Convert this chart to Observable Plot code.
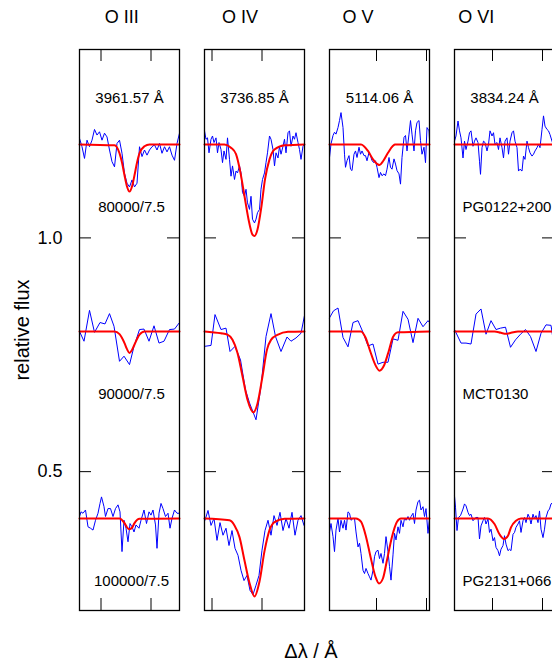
<!DOCTYPE html>
<html>
<head>
<meta charset="utf-8">
<script src="https://cdn.jsdelivr.net/npm/d3@7"></script>
<script src="https://cdn.jsdelivr.net/npm/@observablehq/plot@0.6"></script>
<style>
  html, body { margin: 0; padding: 0; background: #fff; }
  #wrap { position: relative; width: 552px; height: 662px; overflow: hidden; font-family: "Liberation Sans", Arial, Helvetica, sans-serif; color: #000; }
  #wrap svg { position: absolute; left: 0; top: 0; max-width: none !important; }
  .title { position: absolute; top: 8px; font-size: 18px; line-height: 18px; transform: translateX(-50%); white-space: nowrap; }
  .ylab { position: absolute; left: 22px; top: 330px; font-size: 20px; transform: translate(-50%, -50%) rotate(-90deg); white-space: nowrap; }
  .xlab { position: absolute; left: 311px; top: 651px; font-size: 20px; transform: translate(-50%, -50%); white-space: nowrap; }
</style>
</head>
<body>
<div id="wrap"></div>
<script>
// ---- categories / labels ----
const ions = ["O III", "O IV", "O V", "O VI"];
const lineWavelengths = [3961.57, 3736.85, 5114.06, 3834.24];
const tickWavelengths = [[3961, 3962], [3736, 3737], [5114, 5115], [3834, 3835]];
const rowLevels = [1.2, 0.8, 0.4];
const modelLabels = ["80000/7.5", "90000/7.5", "100000/7.5"];
const starLabels = ["PG0122+200", "MCT0130", "PG2131+066"];
const yTicks = [0.5, 1.0];

// ---- observed spectra: [Δλ (Å), normalized flux] ----
const obs_OIII_PG0122 = [[-1,1.013],[-0.95,0.995],[-0.9,0.970],[-0.85,1.009],[-0.8,0.995],[-0.75,1.009],[-0.7,1.032],[-0.65,1.020],[-0.6,1.027],[-0.55,1.009],[-0.5,1.024],[-0.45,1.016],[-0.4,0.988],[-0.35,0.963],[-0.3,0.952],[-0.25,1.002],[-0.2,1.009],[-0.15,0.981],[-0.1,0.938],[-0.05,0.917],[0,0.909],[0.05,0.924],[0.1,0.909],[0.15,0.917],[0.2,0.995],[0.25,0.974],[0.3,0.988],[0.35,0.977],[0.4,0.988],[0.45,0.995],[0.5,0.999],[0.55,0.988],[0.6,1.002],[0.65,0.981],[0.7,0.995],[0.75,0.984],[0.8,0.995],[0.85,0.977],[0.9,0.966],[0.95,1.002],[1,1.024]];
const obs_OIII_MCT0130 = [[-1,1.0],[-0.91,0.979],[-0.8,1.045],[-0.7,0.998],[-0.59,1.019],[-0.49,1.016],[-0.4,1.038],[-0.31,1.011],[-0.2,0.936],[-0.11,0.947],[0,0.929],[0.09,0.968],[0.2,1.004],[0.29,1.005],[0.39,0.979],[0.49,1.012],[0.59,0.975],[0.69,0.979],[0.8,1.004],[0.9,1.005],[1,1.019]];
const obs_OIII_PG2131 = [[-1,1.004],[-0.97,1.014],[-0.93,1.011],[-0.88,1.018],[-0.83,0.982],[-0.78,0.979],[-0.73,0.975],[-0.68,0.996],[-0.63,1.011],[-0.59,1.032],[-0.56,1.046],[-0.51,1.025],[-0.48,1.004],[-0.43,1.021],[-0.38,1.021],[-0.33,1.004],[-0.28,1.021],[-0.23,1.029],[-0.19,1.014],[-0.15,0.929],[-0.11,0.996],[-0.07,0.979],[-0.03,0.950],[0.01,0.989],[0.05,0.982],[0.09,0.971],[0.13,0.986],[0.19,0.979],[0.23,0.996],[0.29,1.018],[0.34,0.989],[0.39,1.014],[0.43,1.007],[0.47,1.018],[0.52,0.986],[0.55,0.936],[0.59,1.011],[0.63,1.032],[0.67,1.021],[0.72,1.004],[0.77,1.011],[0.81,0.979],[0.85,1.0],[0.9,1.018],[0.95,1.011],[1,1.011]];

const obs_OIV_PG0122 = [[-1,1.029],[-0.97,1.011],[-0.94,1.014],[-0.91,0.982],[-0.87,1.011],[-0.84,1.018],[-0.81,1.004],[-0.77,1.014],[-0.74,0.982],[-0.71,1.004],[-0.67,0.989],[-0.64,0.961],[-0.61,0.986],[-0.57,0.968],[-0.54,1.014],[-0.5,0.968],[-0.47,0.932],[-0.44,0.954],[-0.4,0.925],[-0.37,0.943],[-0.34,0.939],[-0.3,0.954],[-0.27,0.939],[-0.24,0.897],[-0.2,0.889],[-0.17,0.904],[-0.14,0.875],[-0.1,0.861],[-0.07,0.889],[-0.04,0.840],[0,0.832],[0.03,0.840],[0.06,0.854],[0.1,0.861],[0.13,0.904],[0.16,0.925],[0.2,0.939],[0.23,0.961],[0.26,0.982],[0.3,1.018],[0.33,1.011],[0.37,0.989],[0.4,0.954],[0.43,0.982],[0.47,0.971],[0.5,0.996],[0.53,0.979],[0.57,0.996],[0.6,1.011],[0.63,0.982],[0.67,1.025],[0.7,1.029],[0.73,0.996],[0.77,1.018],[0.8,1.011],[0.83,1.025],[0.87,1.004],[0.9,0.989],[0.93,0.968],[0.97,0.996],[1,1.0]];
const obs_OIV_MCT0130 = [[-1,0.968],[-0.87,0.970],[-0.79,1.036],[-0.67,1.004],[-0.57,1.007],[-0.49,0.957],[-0.39,0.968],[-0.28,0.939],[-0.18,0.875],[-0.1,0.847],[0.03,0.811],[0.13,0.882],[0.23,0.989],[0.33,1.038],[0.42,0.989],[0.53,0.957],[0.65,0.988],[0.73,0.979],[0.83,0.986],[0.93,0.996],[1,1.034]];
const obs_OIV_PG2131 = [[-0.99,0.996],[-0.93,1.017],[-0.87,0.985],[-0.81,1.0],[-0.75,0.953],[-0.69,0.991],[-0.63,0.964],[-0.57,0.979],[-0.51,0.942],[-0.45,0.974],[-0.39,0.936],[-0.33,0.921],[-0.27,0.889],[-0.21,0.867],[-0.15,0.878],[-0.09,0.846],[-0.03,0.837],[0.03,0.857],[0.09,0.878],[0.15,0.932],[0.21,0.974],[0.27,0.996],[0.33,0.964],[0.39,1.006],[0.45,0.985],[0.51,1.013],[0.57,0.974],[0.63,1.0],[0.69,0.979],[0.75,1.013],[0.81,0.964],[0.87,0.996],[0.93,1.006],[0.99,0.985]];

const obs_OV_PG0122 = [[-1,0.972],[-0.97,1.001],[-0.93,1.019],[-0.9,1.026],[-0.87,1.022],[-0.83,1.036],[-0.8,1.051],[-0.77,1.068],[-0.73,1.036],[-0.7,0.979],[-0.68,0.951],[-0.65,0.965],[-0.61,0.976],[-0.58,0.947],[-0.55,0.944],[-0.51,0.979],[-0.48,0.986],[-0.45,0.972],[-0.41,0.994],[-0.38,0.979],[-0.35,0.986],[-0.31,0.976],[-0.28,0.976],[-0.25,0.965],[-0.21,0.983],[-0.18,0.976],[-0.15,0.965],[-0.11,0.961],[-0.08,0.965],[-0.05,0.951],[-0.01,0.929],[0.02,0.940],[0.05,0.933],[0.09,0.937],[0.12,0.933],[0.15,0.947],[0.19,0.972],[0.22,0.951],[0.25,0.947],[0.29,0.969],[0.32,0.958],[0.35,0.944],[0.39,0.937],[0.42,0.915],[0.45,0.972],[0.49,1.015],[0.52,1.019],[0.55,0.986],[0.59,1.022],[0.62,1.051],[0.65,1.022],[0.69,0.986],[0.72,1.029],[0.75,1.047],[0.79,1.051],[0.82,1.008],[0.85,0.979],[0.89,0.994],[0.92,0.961],[0.95,1.036],[0.99,1.029],[1,1.011]];
const obs_OV_MCT0130 = [[-1,1.029],[-0.92,1.044],[-0.83,1.050],[-0.73,0.987],[-0.63,0.967],[-0.53,1.019],[-0.43,1.023],[-0.33,0.998],[-0.23,0.969],[-0.13,0.973],[-0.03,0.930],[0.07,0.934],[0.17,0.934],[0.27,0.984],[0.37,0.981],[0.47,1.043],[0.57,1.026],[0.67,0.976],[0.77,1.028],[0.87,1.010],[0.97,1.023],[1,1.019]];
const obs_OV_PG2131 = [[-1,0.971],[-0.97,0.989],[-0.93,0.961],[-0.9,0.929],[-0.87,0.975],[-0.83,1.0],[-0.8,0.971],[-0.77,0.996],[-0.73,0.979],[-0.7,0.996],[-0.67,0.975],[-0.63,1.014],[-0.6,1.011],[-0.57,0.996],[-0.53,1.0],[-0.5,1.0],[-0.47,0.971],[-0.43,0.939],[-0.4,0.947],[-0.37,0.925],[-0.33,0.889],[-0.3,0.882],[-0.27,0.893],[-0.23,0.882],[-0.2,0.875],[-0.17,0.868],[-0.13,0.889],[-0.1,0.918],[-0.07,0.929],[-0.03,0.932],[0,0.914],[0.03,0.925],[0.07,0.904],[0.1,0.925],[0.13,0.961],[0.17,0.929],[0.2,0.897],[0.23,0.868],[0.27,0.922],[0.3,0.968],[0.33,0.954],[0.37,0.982],[0.4,0.968],[0.43,0.996],[0.47,0.982],[0.5,1.0],[0.53,0.996],[0.57,1.004],[0.6,0.996],[0.63,1.004],[0.67,1.011],[0.7,0.989],[0.73,1.018],[0.77,1.036],[0.8,1.039],[0.83,1.018],[0.87,1.025],[0.9,1.004],[0.93,1.021],[0.97,0.968],[1,1.0]];

const obs_OVI_PG0122 = [[-1,1.007],[-0.97,1.018],[-0.93,1.050],[-0.9,1.029],[-0.87,1.014],[-0.83,0.971],[-0.8,1.007],[-0.77,0.989],[-0.73,1.007],[-0.7,1.025],[-0.67,1.029],[-0.63,0.996],[-0.6,1.007],[-0.57,1.014],[-0.53,1.004],[-0.5,0.964],[-0.48,0.936],[-0.45,0.993],[-0.42,1.007],[-0.39,1.004],[-0.35,0.986],[-0.32,1.0],[-0.29,1.029],[-0.25,1.018],[-0.22,1.025],[-0.19,1.0],[-0.15,1.004],[-0.12,0.989],[-0.09,1.014],[-0.05,0.993],[-0.02,0.971],[0.01,1.007],[0.05,1.014],[0.08,0.979],[0.11,1.007],[0.15,1.025],[0.18,1.029],[0.21,1.007],[0.25,0.993],[0.28,0.943],[0.31,0.947],[0.35,0.943],[0.38,0.975],[0.41,0.968],[0.45,1.007],[0.48,0.993],[0.51,0.982],[0.55,0.975],[0.58,0.979],[0.61,0.986],[0.65,0.993],[0.68,1.0],[0.71,0.993],[0.75,1.032],[0.78,1.061],[0.81,1.039],[0.85,1.032],[0.88,1.029],[0.91,1.021],[0.95,1.007],[0.97,1.0],[1,1.005]];
const obs_OVI_MCT0130 = [[-1,1.004],[-0.87,0.975],[-0.77,0.975],[-0.67,0.973],[-0.57,1.037],[-0.47,1.048],[-0.37,0.994],[-0.27,1.023],[-0.17,1.004],[-0.08,1.007],[0.02,1.009],[0.12,0.966],[0.22,0.982],[0.32,0.994],[0.42,1.004],[0.52,0.989],[0.63,0.957],[0.73,0.996],[0.83,1.014],[0.93,1.013],[0.97,0.984],[1,0.99]];
const obs_OVI_PG2131 = [[-1,1.048],[-0.98,1.024],[-0.95,0.974],[-0.92,1.002],[-0.88,1.006],[-0.83,1.020],[-0.8,1.031],[-0.77,1.027],[-0.73,1.013],[-0.7,1.006],[-0.67,1.009],[-0.63,0.995],[-0.6,0.999],[-0.57,1.002],[-0.53,1.002],[-0.5,0.956],[-0.47,0.984],[-0.43,0.995],[-0.4,1.002],[-0.37,0.988],[-0.33,0.999],[-0.3,0.970],[-0.27,0.977],[-0.23,0.952],[-0.2,0.959],[-0.17,0.938],[-0.13,0.931],[-0.1,0.920],[-0.07,0.934],[-0.03,0.942],[0,0.963],[0.03,0.945],[0.07,0.931],[0.1,0.934],[0.13,0.931],[0.17,0.966],[0.2,0.970],[0.23,0.981],[0.27,0.988],[0.3,0.995],[0.33,0.970],[0.37,0.995],[0.4,1.002],[0.43,0.991],[0.47,1.009],[0.5,1.002],[0.53,0.988],[0.57,1.009],[0.6,0.999],[0.63,1.006],[0.67,0.991],[0.7,1.016],[0.73,0.977],[0.77,0.959],[0.8,0.977],[0.83,1.002],[0.87,1.016],[0.9,1.020],[0.93,1.031],[0.97,1.034],[1,1.03]];

// ---- model spectra: [Δλ (Å), normalized flux] ----
const mod_OIII_80000 = [[-1,1],[-0.3,0.998],[-0.2,0.981],[-0.15,0.961],[-0.1,0.934],[-0.05,0.910],[0,0.899],[0.05,0.910],[0.1,0.934],[0.15,0.961],[0.2,0.981],[0.3,0.996],[0.4,1],[1,1]];
const mod_OIII_90000 = [[-1,1],[-0.3,1],[-0.2,0.994],[-0.1,0.975],[-0.05,0.962],[0,0.954],[0.05,0.960],[0.1,0.972],[0.2,0.993],[0.3,1],[1,1]];
const mod_OIII_100000 = [[-1,1],[-0.2,1],[-0.1,0.990],[-0.05,0.981],[0,0.977],[0.05,0.980],[0.1,0.990],[0.2,0.999],[1,1]];
const mod_OIV_80000 = [[-1,1],[-0.6,1],[-0.47,0.993],[-0.37,0.979],[-0.28,0.939],[-0.2,0.889],[-0.12,0.840],[-0.04,0.807],[0,0.804],[0.06,0.818],[0.14,0.868],[0.21,0.925],[0.3,0.968],[0.4,0.989],[0.6,0.998],[1,1]];
const mod_OIV_90000 = [[-1,1],[-0.67,0.996],[-0.54,0.993],[-0.44,0.982],[-0.34,0.954],[-0.24,0.904],[-0.14,0.854],[-0.02,0.827],[0.06,0.846],[0.16,0.904],[0.25,0.961],[0.33,0.982],[0.47,0.993],[0.67,0.999],[1,1]];
const mod_OIV_100000 = [[-1,1],[-0.5,0.996],[-0.4,0.985],[-0.3,0.960],[-0.2,0.910],[-0.1,0.862],[0,0.833],[0.1,0.865],[0.2,0.930],[0.3,0.975],[0.4,0.992],[0.6,0.999],[1,1]];
const mod_OV_80000 = [[-1,1],[-0.37,1],[-0.23,0.986],[-0.13,0.968],[-0.03,0.957],[0,0.956],[0.07,0.964],[0.17,0.982],[0.27,0.997],[0.31,1],[1,1]];
const mod_OV_90000 = [[-1,1],[-0.37,1],[-0.28,0.987],[-0.19,0.959],[-0.09,0.930],[0,0.916],[0.09,0.927],[0.18,0.956],[0.27,0.988],[0.37,0.998],[1,1]];
const mod_OV_100000 = [[-1,1],[-0.47,1],[-0.37,0.993],[-0.27,0.961],[-0.18,0.918],[-0.08,0.875],[-0.01,0.861],[0.07,0.872],[0.15,0.911],[0.25,0.961],[0.35,0.993],[0.43,1],[1,1]];
const mod_OVI_80000 = [[-1,1],[1,1]];
const mod_OVI_90000 = [[-1,1],[-0.2,1],[-0.07,0.997],[0.03,0.995],[0.13,0.997],[0.27,1],[1,1]];
const mod_OVI_100000 = [[-1,1],[-0.33,1],[-0.2,0.988],[-0.1,0.966],[-0.01,0.956],[0.07,0.963],[0.13,0.981],[0.23,0.995],[0.33,1],[1,1]];

// ---- tables for the library ----
const observed = [
  [obs_OIII_PG0122, obs_OIII_MCT0130, obs_OIII_PG2131],
  [obs_OIV_PG0122, obs_OIV_MCT0130, obs_OIV_PG2131],
  [obs_OV_PG0122, obs_OV_MCT0130, obs_OV_PG2131],
  [obs_OVI_PG0122, obs_OVI_MCT0130, obs_OVI_PG2131]
];
const models = [
  [mod_OIII_80000, mod_OIII_90000, mod_OIII_100000],
  [mod_OIV_80000, mod_OIV_90000, mod_OIV_100000],
  [mod_OV_80000, mod_OV_90000, mod_OV_100000],
  [mod_OVI_80000, mod_OVI_90000, mod_OVI_100000]
];
const toRows = (sets) => sets.flatMap((rows, i) => rows.flatMap((s, j) =>
  s.map(([d, f]) => ({ion: ions[i], row: j, dl: d, flux: f - 1 + rowLevels[j]}))));
const obsRows = toRows(observed);
const modRows = toRows(models);
const xTickRows = ions.flatMap((ion, i) => tickWavelengths[i].map(t => ({ion, dl: t - lineWavelengths[i]})));
const lineLabelRows = ions.map((ion, i) => ({ion, label: lineWavelengths[i].toFixed(2) + " Å"}));
const modelLabelRows = modelLabels.map((label, j) => ({ion: ions[0], label, level: rowLevels[j]}));
const starLabelRows = starLabels.map((label, j) => ({ion: ions[3], label, level: rowLevels[j]}));

const font = '"Liberation Sans", Arial, Helvetica, sans-serif';

const chart = Plot.plot({
  width: 556,
  height: 662,
  marginLeft: 79,
  marginRight: 2,
  marginTop: 49,
  marginBottom: 52,
  style: {fontFamily: font, background: "white", color: "black", overflow: "visible", maxWidth: "none"},
  fx: {domain: ions, paddingInner: 0.2, paddingOuter: 0, axis: null},
  x: {domain: [-1, 1], axis: null},
  y: {domain: [0.203, 1.403], axis: null},
  marks: [
    Plot.axisY(yTicks, {anchor: "left", tickSize: 0, tickPadding: 17, tickFormat: d3.format(".1f"), fontSize: 18, label: null}),
    Plot.tickY(yTicks, {y: d => d, insetRight: 88, stroke: "black", strokeWidth: 1}),
    Plot.tickY(yTicks, {y: d => d, insetLeft: 88, stroke: "black", strokeWidth: 1}),
    Plot.tickX(xTickRows, {fx: "ion", x: "dl", insetBottom: 549, stroke: "black", strokeWidth: 1}),
    Plot.tickX(xTickRows, {fx: "ion", x: "dl", insetTop: 549, stroke: "black", strokeWidth: 1}),
    Plot.line(obsRows, {fx: "ion", x: "dl", y: "flux", z: "row", stroke: "#0000ff", strokeWidth: 1}),
    Plot.line(modRows, {fx: "ion", x: "dl", y: "flux", z: "row", stroke: "#ff0000", strokeWidth: 2, curve: "monotone-x"}),
    Plot.text(lineLabelRows, {fx: "ion", text: "label", frameAnchor: "top", dy: 43, fontSize: 15, fill: "black"}),
    Plot.text(modelLabelRows, {fx: "ion", y: "level", text: "label", dx: 2, dy: 63, fontSize: 15, fill: "black"}),
    Plot.text(starLabelRows, {fx: "ion", y: "level", text: "label", frameAnchor: "left", textAnchor: "start", dx: 8, dy: 63, fontSize: 15, fill: "black"}),
    Plot.frame({stroke: "black", strokeWidth: 1.3})
  ]
});
chart.style.maxWidth = "none";

const wrap = document.getElementById("wrap");
wrap.appendChild(chart);
ions.forEach((ion, i) => {
  const t = document.createElement("div");
  t.className = "title";
  t.textContent = ion;
  t.style.left = (121.7 + 118.2 * i) + "px";
  wrap.appendChild(t);
});
const yl = document.createElement("div");
yl.className = "ylab"; yl.textContent = "relative flux";
wrap.appendChild(yl);
const xl = document.createElement("div");
xl.className = "xlab"; xl.textContent = "Δλ / Å";
wrap.appendChild(xl);
</script>
</body>
</html>
